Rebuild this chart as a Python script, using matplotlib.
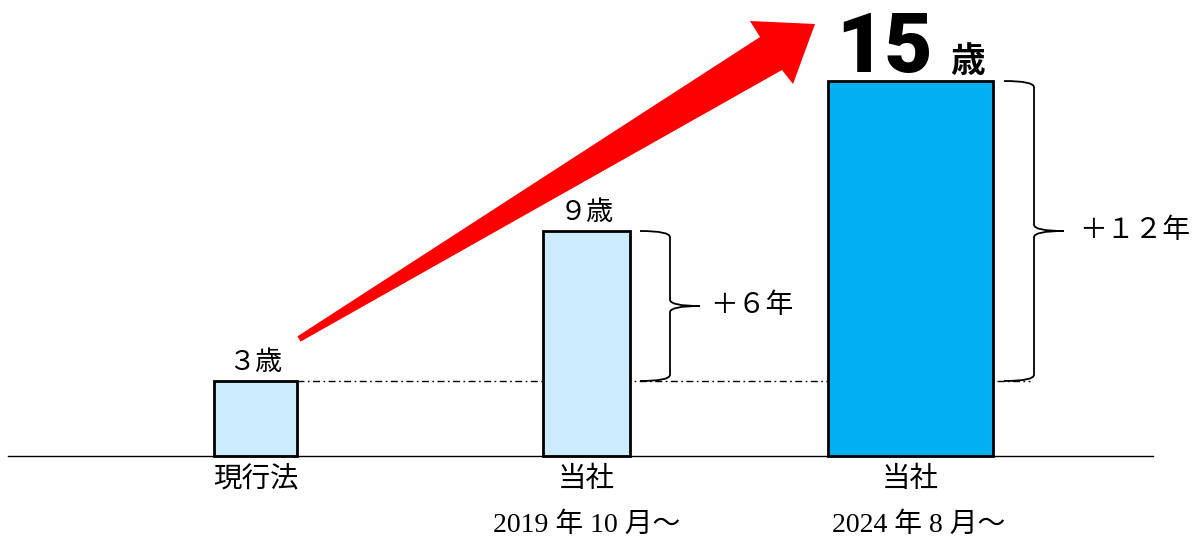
import matplotlib

matplotlib.use("Agg")
import matplotlib.pyplot as plt
from matplotlib.patches import PathPatch, Polygon
from matplotlib.path import Path
from matplotlib.transforms import Affine2D

# data
categories = ["現行法", "当社", "当社"]
periods = ["", "2019 年 10 月～", "2024 年 8 月～"]
ages = [3, 9, 15]
age_labels = ["３歳", "９歳"]
gain_labels = ["＋６年", "＋１２年"]

W, H = 1198, 537
SERIF = ["Liberation Serif", "Noto Sans CJK JP"]

fig = plt.figure(figsize=(W / 100, H / 100), dpi=100)
ax = fig.add_axes([0, 0, 1, 1])
ax.set_xlim(0, W)
ax.set_ylim(-81 / 25, 456 / 25)
ax.axis("off")

centers = [255.5, 586.5, 910.5]
widths = [83, 87, 165]
date_dx = [0, 0, 8]
colors = ["#CCECFF", "#CCECFF", "#00B0F0"]

ax.bar(centers, ages, width=widths, color=colors, edgecolor="black",
       linewidth=2.0, zorder=3)
ax.plot([8, 1153], [0, 0], color="black", linewidth=1.0, zorder=4)

# reference line at the current-law age
right1 = centers[0] + widths[0] / 2
ax.plot([right1, 1030], [ages[0], ages[0]], color="black", linewidth=1.0,
        dashes=(5, 2.5, 1.2, 2.5), zorder=2)


def brace(x0, x1, x2, yb, yt, r=0.25):
    ym = (yb + yt) / 2
    verts = [(x0, yt), (x1, yt), (x1, yt - r), (x1, ym + r), (x1, ym),
             (x2, ym), (x1, ym), (x1, ym - r), (x1, yb + r), (x1, yb),
             (x0, yb)]
    codes = [Path.MOVETO, Path.CURVE3, Path.CURVE3, Path.LINETO,
             Path.CURVE3, Path.CURVE3, Path.CURVE3, Path.CURVE3,
             Path.LINETO, Path.CURVE3, Path.CURVE3]
    ax.add_patch(PathPatch(Path(verts, codes), fill=False, lw=1.3,
                           edgecolor="black", zorder=3))
    return ym


m1 = brace(640, 670, 700, ages[0], ages[1])
m2 = brace(1004, 1034, 1064, ages[0], ages[2])
ax.text(710, m1, gain_labels[0], ha="left", va="center", fontsize=20,
        family=SERIF)
ax.text(1079, m2, gain_labels[1], ha="left", va="center", fontsize=20,
        family=SERIF)

# value labels
for x, v, lab in zip(centers[:2], ages[:2], age_labels):
    ax.text(x, v + 0.2, lab, ha="center", va="bottom", fontsize=19.5,
            family=SERIF)
ax.text(885, ages[2] + 0.36, str(ages[2]), ha="center", va="baseline",
        fontsize=60, family="Roboto", fontweight="black")
ax.text(968, ages[2] + 0.36, "歳", ha="center", va="baseline",
        fontsize=25, family="Noto Sans CJK JP", fontweight="bold")

# category labels
for x, dx, c, p in zip(centers, date_dx, categories, periods):
    ax.text(x, -0.95, c, ha="center", va="center", fontsize=20.5,
            family=SERIF)
    if p:
        ax.text(x + dx, -2.76, p, ha="center", va="center", fontsize=20,
                family=SERIF)

# big red arrow (pixel coordinates, y down)
px = Affine2D().scale(1, -1).translate(0, H)
arrow = [(297.4, 336.4), (760, 37), (750, 21), (815, 24), (793, 84),
         (782, 70), (300.6, 341.6)]
ax.add_patch(Polygon(arrow, closed=True, facecolor="#FF0000",
                     edgecolor="none", transform=px, zorder=5))

fig.savefig("out.png", dpi=100)
